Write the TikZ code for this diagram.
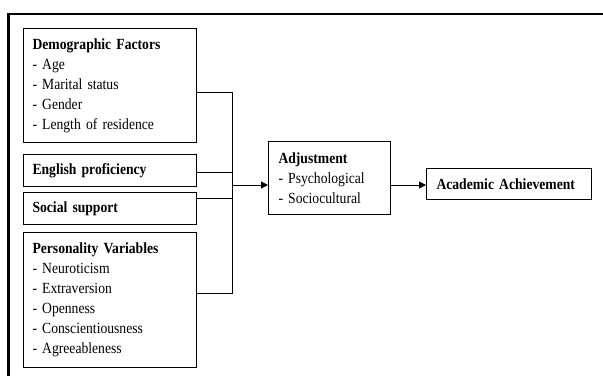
\documentclass[tikz,border=0pt]{standalone}
\usepackage{fontspec}
\setmainfont[FakeStretch=0.88]{Liberation Serif}
\usetikzlibrary{arrows.meta}
\begin{document}
\begin{tikzpicture}[x=1pt,y=-1pt,
  box/.style={draw,line width=1pt,anchor=north west,align=left,inner xsep=9pt,inner ysep=0pt,
    font=\fontsize{15.5}{20}\selectfont},
  conn/.style={line width=1pt},
  arr/.style={line width=1pt,-{Triangle[length=7pt,width=7pt]}}]
\useasboundingbox (0,0) rectangle (603,376);
\draw[line width=2.2pt] (603,14) -- (8.5,14) -- (8.5,376);
\node[box,minimum width=173pt,minimum height=114pt,text width=155pt] (d) at (23,28)
  {\textbf{Demographic Factors}\\- Age\\- Marital status\\- Gender\\- Length of residence};
\node[box,minimum width=173pt,minimum height=32pt,text width=155pt] (e) at (23,154)
  {\textbf{English proficiency}};
\node[box,minimum width=173pt,minimum height=32pt,text width=155pt] (s) at (23,192)
  {\textbf{Social support}};
\node[box,minimum width=173pt,minimum height=135pt,text width=155pt] (p) at (23,232)
  {\textbf{Personality Variables}\\- Neuroticism\\- Extraversion\\- Openness\\- Conscientiousness\\- Agreeableness};
\node[box,minimum width=122pt,minimum height=73pt,text width=102pt,inner xsep=10pt] (a) at (268,141)
  {\textbf{Adjustment}\\- Psychological\\- Sociocultural};
\node[box,minimum width=165pt,minimum height=31pt,text width=145pt,inner xsep=10pt] (ac) at (426,168)
  {\textbf{Academic Achievement}};
\coordinate (j) at (232,185);
\draw[conn] ([yshift=-7pt]d.east) -| (j);
\draw[conn] ([yshift=6.5pt]p.east) -| (j);
\draw[conn] ([yshift=-2pt]e.east) -- ++(36,0);
\draw[conn] ([yshift=10pt]s.east) -- ++(36,0);
\draw[arr] (j) -- (j -| a.west);
\draw[arr] (j -| a.east) -- (j -| ac.west);
\end{tikzpicture}
\end{document}
